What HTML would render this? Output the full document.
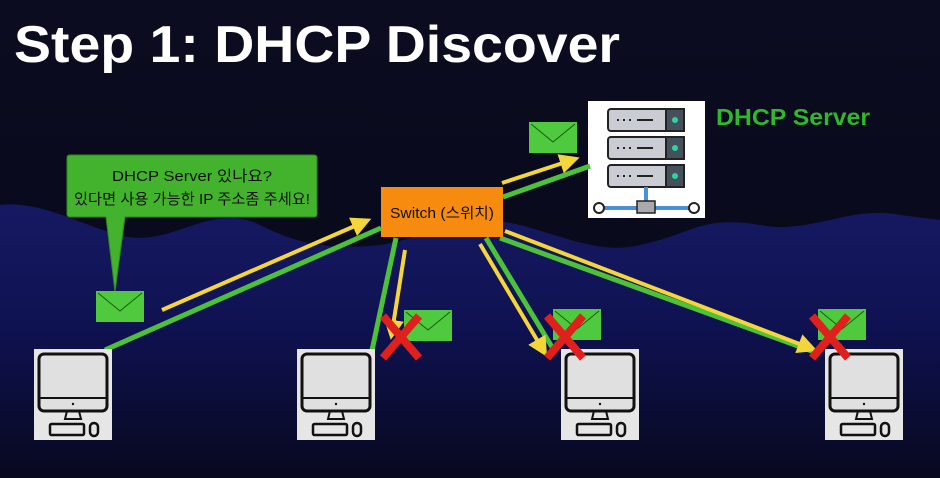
<!DOCTYPE html>
<html><head><meta charset="utf-8"><style>
html,body{margin:0;padding:0;width:940px;height:478px;overflow:hidden;background:#0b0b1f}
svg{display:block}
</style></head><body>
<svg width="940" height="478" viewBox="0 0 940 478" xmlns="http://www.w3.org/2000/svg">
<defs>
<linearGradient id="bg" x1="0" y1="0" x2="0" y2="1">
<stop offset="0" stop-color="#0c0c20"/><stop offset="1" stop-color="#07071a"/></linearGradient>
<linearGradient id="mt" x1="0" y1="0" x2="0" y2="1">
<stop offset="0" stop-color="#181c6e"/><stop offset="0.45" stop-color="#10135a"/><stop offset="1" stop-color="#08091f"/></linearGradient>
<marker id="ya" markerWidth="5" markerHeight="5" refX="3" refY="2.5" orient="auto" markerUnits="strokeWidth"><path d="M0,0 L5,2.5 L0,5 z" fill="#f5d63a"/></marker>
<g id="pc">
<rect x="0" y="0" width="78" height="91" fill="#e6e6e6"/>
<rect x="5" y="5" width="68" height="57" rx="5" fill="#e0e0e0" stroke="#111" stroke-width="3"/>
<line x1="5" y1="49" x2="73" y2="49" stroke="#111" stroke-width="2"/>
<circle cx="39" cy="55" r="1.2" fill="#111"/>
<path d="M33,62 L31,70 L47,70 L45,62" fill="none" stroke="#111" stroke-width="2"/>
<rect x="16" y="75" width="34" height="11" rx="1.5" fill="none" stroke="#111" stroke-width="2.5"/>
<rect x="56" y="74" width="8" height="13" rx="4" fill="none" stroke="#111" stroke-width="2.5"/>
</g>
<g id="env">
<rect x="0" y="0" width="48" height="31" fill="#4fc93d"/>
<path d="M2,2 L24,20 L46,2" fill="none" stroke="#1a5a12" stroke-width="1"/>
</g>
<g id="x">
<path d="M0,0 L36,42 M36,0 L0,42" stroke="#e0201c" stroke-width="8"/>
</g>
</defs>
<rect width="940" height="478" fill="url(#bg)"/>
<path d="M0,205 C40,200 80,225 120,235 C170,250 210,200 260,225 C300,245 330,250 380,245 C420,240 460,210 520,225 C560,235 600,255 640,245 C690,235 700,215 760,225 C810,235 850,205 900,215 L940,220 L940,478 L0,478 Z" fill="url(#mt)" opacity="0.85"/>
<text x="14" y="62" font-family="Liberation Sans, sans-serif" font-weight="bold" font-size="52" fill="#fff" textLength="606" lengthAdjust="spacingAndGlyphs">Step 1: DHCP Discover</text>
<!-- bubble -->
<path d="M67,158 Q67,155 70,155 L314,155 Q317,155 317,158 L317,214 Q317,217 314,217 L125,217 L115,292 L106,217 L70,217 Q67,217 67,214 Z" fill="#43b22d" stroke="#2a8a1c" stroke-width="1"/>
<text x="192" y="181" text-anchor="middle" font-family="Liberation Sans, 'Noto Sans CJK KR', sans-serif" font-size="15" fill="#111" textLength="160" lengthAdjust="spacingAndGlyphs">DHCP Server 있나요?</text>
<text x="192" y="204" text-anchor="middle" font-family="Liberation Sans, 'Noto Sans CJK KR', sans-serif" font-size="15" fill="#111" textLength="236" lengthAdjust="spacingAndGlyphs">있다면 사용 가능한 IP 주소좀 주세요!</text>
<!-- server -->
<rect x="588" y="101" width="117" height="117" fill="#fff"/>
<g stroke="#222" stroke-width="2">
<rect x="608" y="109" width="76" height="22" rx="3" fill="#c9cdd3"/>
<rect x="608" y="137" width="76" height="22" rx="3" fill="#c9cdd3"/>
<rect x="608" y="165" width="76" height="22" rx="3" fill="#c9cdd3"/>
<rect x="666" y="109" width="18" height="22" fill="#44505a"/>
<rect x="666" y="137" width="18" height="22" fill="#44505a"/>
<rect x="666" y="165" width="18" height="22" fill="#44505a"/>
</g>
<g fill="#2fd3a0"><circle cx="675" cy="120" r="3"/><circle cx="675" cy="148" r="3"/><circle cx="675" cy="176" r="3"/></g>
<g stroke="#222" stroke-width="2"><path d="M617,120h2M623,120h2M629,120h2M637,120h16M617,148h2M623,148h2M629,148h2M637,148h16M617,176h2M623,176h2M629,176h2M637,176h16"/></g>
<line x1="646" y1="187" x2="646" y2="201" stroke="#4a90d9" stroke-width="4"/>
<line x1="600" y1="208" x2="693" y2="208" stroke="#4a90d9" stroke-width="4"/>
<rect x="637" y="201" width="18" height="12" fill="#aaa" stroke="#222" stroke-width="1.5"/>
<circle cx="599" cy="208" r="5" fill="#fff" stroke="#222" stroke-width="2"/>
<circle cx="694" cy="208" r="5" fill="#fff" stroke="#222" stroke-width="2"/>
<text x="716" y="125" font-family="Liberation Sans, sans-serif" font-weight="bold" font-size="23" fill="#2eb82a" textLength="154" lengthAdjust="spacingAndGlyphs">DHCP Server</text>
<!-- lines -->
<g stroke="#4cc23a" stroke-width="5" fill="none">
<line x1="105" y1="350" x2="381" y2="228"/>
<line x1="503" y1="197" x2="590" y2="166"/>
<line x1="396" y1="238" x2="371" y2="355"/>
<line x1="486" y1="238" x2="555" y2="352"/>
<line x1="500" y1="238" x2="820" y2="354"/>
</g>
<g stroke="#f5d63a" stroke-width="4" fill="none" marker-end="url(#ya)">
<line x1="162" y1="310" x2="364" y2="222"/>
<line x1="502" y1="183" x2="572" y2="160"/>
<line x1="405" y1="250" x2="392" y2="332"/>
<line x1="480" y1="244" x2="543" y2="350"/>
<line x1="505" y1="231" x2="810" y2="348"/>
</g>
<!-- switch -->
<rect x="381" y="187" width="122" height="50" fill="#f68b0f"/>
<text x="442" y="218" text-anchor="middle" font-family="Liberation Sans, 'Noto Sans CJK KR', sans-serif" font-size="15" fill="#111" textLength="104" lengthAdjust="spacingAndGlyphs">Switch (스위치)</text>
<!-- envelopes -->
<use href="#env" x="96" y="291"/>
<use href="#env" x="529" y="122"/>
<use href="#env" x="404" y="310"/>
<use href="#env" x="553" y="309"/>
<use href="#env" x="818" y="309"/>
<!-- pcs -->
<use href="#pc" x="34" y="349"/>
<use href="#pc" x="297" y="349"/>
<use href="#pc" x="561" y="349"/>
<use href="#pc" x="825" y="349"/>
<!-- X marks -->
<use href="#x" x="383" y="316"/>
<use href="#x" x="547" y="316"/>
<use href="#x" x="812" y="316"/>
</svg>
</body></html>
